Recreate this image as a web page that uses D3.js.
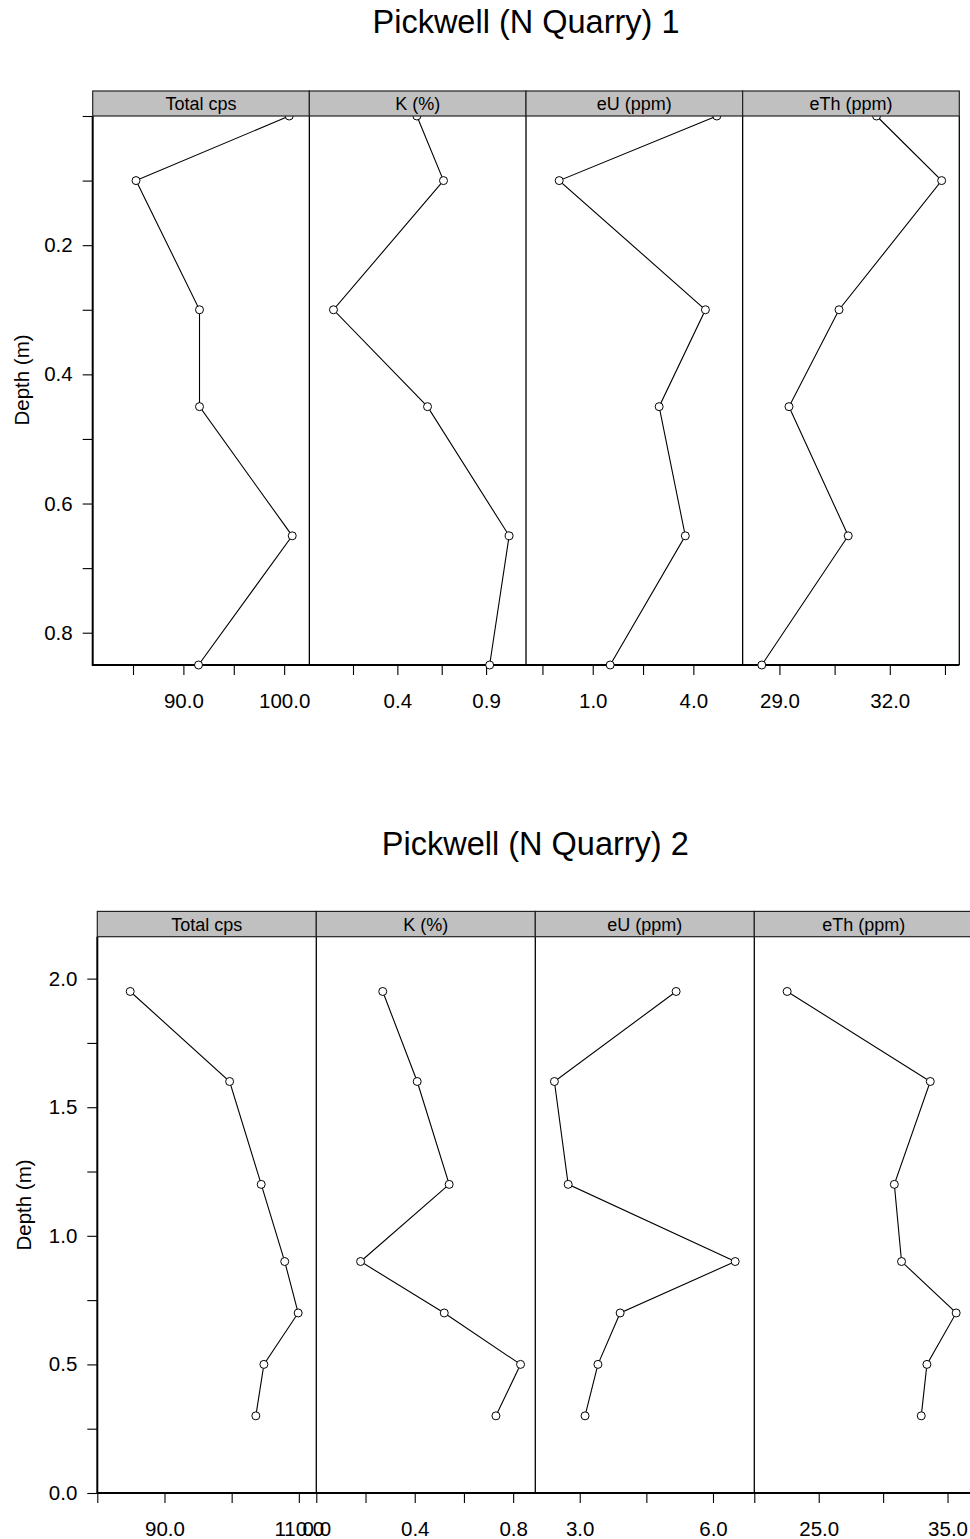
<!DOCTYPE html>
<html><head><meta charset="utf-8">
<script src="https://cdn.jsdelivr.net/npm/d3@7"></script>
<style>
html,body{margin:0;padding:0;background:#fff;}
svg{display:block;}
text{font-family:"Liberation Sans",Arial,sans-serif;fill:#000;}
</style></head><body>
<svg id="chart" width="970" height="1539"></svg>
<script>
// ---------- data ----------
const panelNames = ["Total cps", "K (%)", "eU (ppm)", "eTh (ppm)"];

// Chart 1
const title1 = "Pickwell (N Quarry) 1";
const depth1 = [0, 0.1, 0.3, 0.45, 0.65, 0.85];
const totalCps1 = [100.5, 85.3, 91.6, 91.6, 100.8, 91.5];
const k1 = [0.51, 0.66, 0.04, 0.57, 1.03, 0.92];
const eU1 = [4.70, 0.0, 4.36, 2.98, 3.76, 1.52];
const eTh1 = [31.64, 33.41, 30.62, 29.26, 30.87, 28.52];
const xDomains1 = [[81.0, 102.5], [-0.096, 1.125], [-0.99, 5.47], [28.0, 33.89]];
const xMajor1 = [[90, 100], [0.4, 0.9], [1, 4], [29, 32]];
const xMinor1 = [[85, 95], [0.15, 0.65], [-0.5, 2.5], [30.5, 33.5]];
const yDomain1 = [0, 0.85];
const yMajor1 = [0.2, 0.4, 0.6, 0.8];
const yMinor1 = [0, 0.1, 0.3, 0.5, 0.7];

// Chart 2
const title2 = "Pickwell (N Quarry) 2";
const depth2 = [1.95, 1.6, 1.2, 0.9, 0.7, 0.5, 0.3];
const totalCps2 = [84.9, 99.7, 104.4, 107.9, 109.9, 104.8, 103.6];
const k2 = [0.27, 0.41, 0.54, 0.18, 0.52, 0.83, 0.73];
const eU2 = [5.17, 2.43, 2.74, 6.50, 3.91, 3.41, 3.12];
const eTh2 = [22.55, 33.66, 30.87, 31.43, 35.67, 33.40, 32.96];
const xDomains2 = [[80, 112.6], [0, 0.89], [2.0, 6.93], [20, 37]];
const xMajor2 = [[90, 110], [0, 0.4, 0.8], [3, 6], [25, 35]];
const xMinor2 = [[80, 100], [0.2, 0.6], [4.5], [20, 30]];
const yDomain2 = [0, 2.163];
const yMajor2 = [0, 0.5, 1.0, 1.5, 2.0];
const yMinor2 = [0.25, 0.75, 1.25, 1.75];

// ---------- drawing ----------
const svg = d3.select("#chart");
const fmt = d3.format(".1f");

function drawChart(c) {
  const g = svg.append("g");
  const band = d3.scaleBand().domain(panelNames).range([c.left, c.right]).paddingInner(0).paddingOuter(0);
  const y = d3.scaleLinear().domain(c.yDomain)
    .range(c.inverted ? [c.top, c.bottom] : [c.bottom, c.top]);

  // title
  g.append("text")
    .attr("x", (c.left + c.right) / 2).attr("y", c.titleY)
    .attr("text-anchor", "middle").style("font-size", "32.5px")
    .text(c.title);

  // y axis
  const yTicks = c.yMajor.concat(c.yMinor).sort(d3.ascending);
  const yAxis = d3.axisLeft(y).tickValues(yTicks).tickSize(10).tickPadding(10)
    .tickFormat(d => c.yMajor.includes(d) ? fmt(d) : "");
  const ya = g.append("g").attr("transform", `translate(${c.left},0)`).call(yAxis);
  ya.select(".domain").remove();
  ya.selectAll(".tick line").attr("stroke", "#000").attr("stroke-width", 1.1);
  ya.selectAll(".tick text").style("font-size", "20.5px");

  // y label
  g.append("text")
    .attr("transform", `translate(${c.yLabelX},${c.yLabelY}) rotate(-90)`)
    .attr("text-anchor", "middle").style("font-size", "20.5px")
    .text("Depth (m)");

  const series = [c.total, c.k, c.eU, c.eTh];

  // panels: axes
  panelNames.forEach((name, i) => {
    const x0 = band(name), x1 = x0 + band.bandwidth();
    const x = d3.scaleLinear().domain(c.xDomains[i]).range([x0, x1]);
    const ticks = c.xMajor[i].concat(c.xMinor[i]).sort(d3.ascending);
    const xAxis = d3.axisBottom(x).tickValues(ticks).tickSize(10)
      .tickFormat(d => c.xMajor[i].includes(d) ? fmt(d) : "");
    const xa = g.append("g").attr("transform", `translate(0,${c.bottom})`).call(xAxis);
    xa.select(".domain").remove();
    xa.selectAll(".tick line").attr("stroke", "#000").attr("stroke-width", 1.1);
    xa.selectAll(".tick text").style("font-size", "20.5px").attr("dy", null).attr("y", 43);
  });

  // frame
  panelNames.forEach((name, i) => {
    const x1 = band(name) + band.bandwidth();
    g.append("line").attr("x1", x1).attr("x2", x1).attr("y1", c.top).attr("y2", c.bottom)
      .attr("stroke", "#000").attr("stroke-width", 1.3);
  });
  g.append("line").attr("x1", c.left).attr("x2", c.left).attr("y1", c.top).attr("y2", c.bottom + 1)
    .attr("stroke", "#000").attr("stroke-width", 2);
  g.append("line").attr("x1", c.left).attr("x2", c.right).attr("y1", c.bottom).attr("y2", c.bottom)
    .attr("stroke", "#000").attr("stroke-width", 2.2);

  // series
  panelNames.forEach((name, i) => {
    const x0 = band(name), x1 = x0 + band.bandwidth();
    const x = d3.scaleLinear().domain(c.xDomains[i]).range([x0, x1]);
    const pts = c.depth.map((d, j) => ({ depth: d, v: series[i][j] }));
    const line = d3.line().x(d => x(d.v)).y(d => y(d.depth));
    g.append("path").datum(pts).attr("d", line)
      .attr("fill", "none").attr("stroke", "#000").attr("stroke-width", 1.1);
    g.selectAll(null).data(pts).enter().append("circle")
      .attr("cx", d => x(d.v)).attr("cy", d => y(d.depth)).attr("r", 4)
      .attr("fill", "#fff").attr("stroke", "#000").attr("stroke-width", 1);
  });

  // strips
  panelNames.forEach((name) => {
    const x0 = band(name), w = band.bandwidth();
    g.append("rect").attr("x", x0).attr("y", c.stripTop).attr("width", w)
      .attr("height", c.top - c.stripTop)
      .attr("fill", "#c0c0c0").attr("stroke", "#222").attr("stroke-width", 1.2);
    g.append("text").attr("x", x0 + w / 2).attr("y", c.top - 6)
      .attr("text-anchor", "middle").style("font-size", "18px").text(name);
  });
}

drawChart({
  title: title1, depth: depth1, total: totalCps1, k: k1, eU: eU1, eTh: eTh1,
  xDomains: xDomains1, xMajor: xMajor1, xMinor: xMinor1,
  yDomain: yDomain1, yMajor: yMajor1, yMinor: yMinor1, inverted: true,
  left: 92.7, right: 959.3, top: 116, bottom: 665, stripTop: 91,
  titleY: 33, yLabelX: 29, yLabelY: 380
});

drawChart({
  title: title2, depth: depth2, total: totalCps2, k: k2, eU: eU2, eTh: eTh2,
  xDomains: xDomains2, xMajor: xMajor2, xMinor: xMinor2,
  yDomain: yDomain2, yMajor: yMajor2, yMinor: yMinor2, inverted: false,
  left: 97.3, right: 973.3, top: 936.7, bottom: 1493, stripTop: 911.4,
  titleY: 855, yLabelX: 31, yLabelY: 1205
});
</script>
</body></html>
